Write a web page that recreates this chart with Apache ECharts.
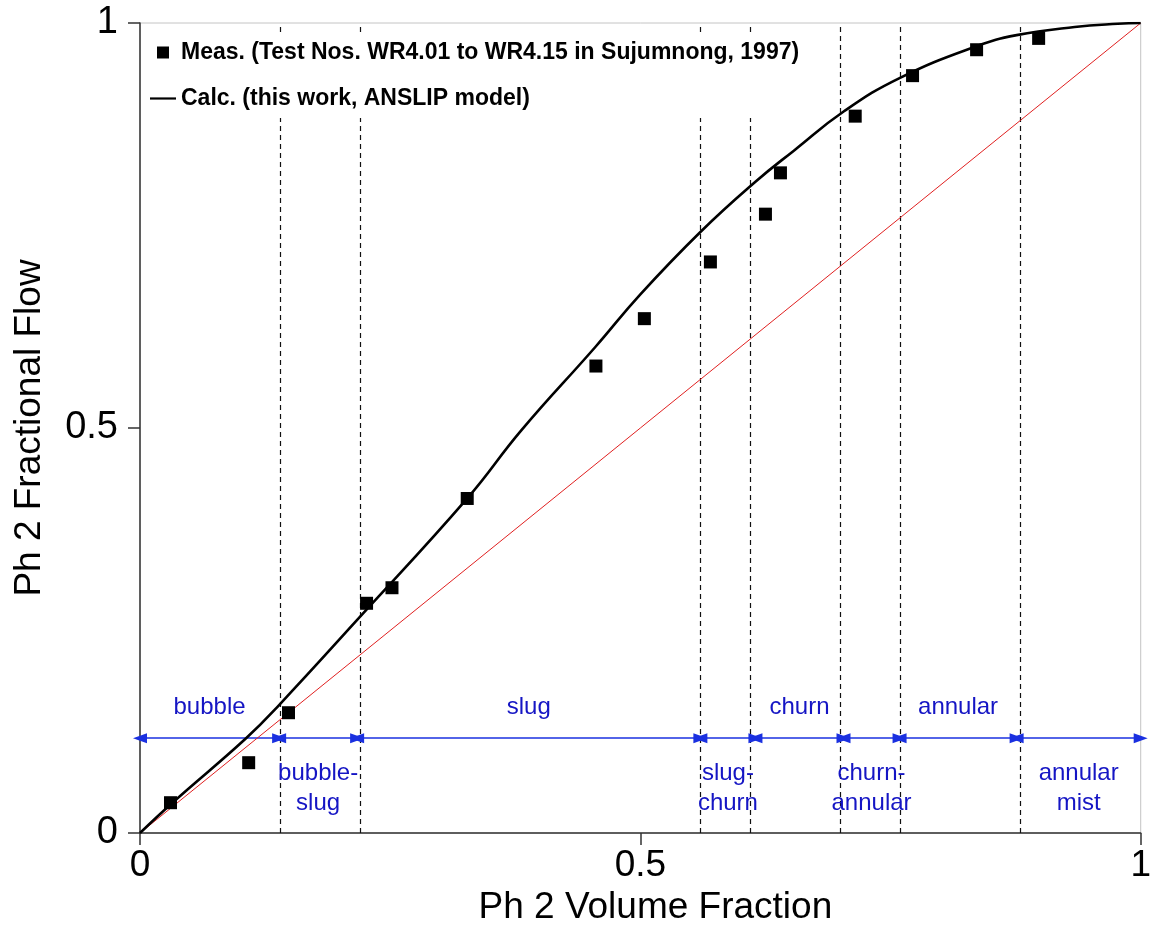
<!DOCTYPE html>
<html>
<head>
<meta charset="utf-8">
<script src="https://cdn.jsdelivr.net/npm/echarts@6/dist/echarts.min.js"></script>
<style>
  html, body { margin: 0; padding: 0; background: #fff; }
  #chart { width: 1154px; height: 947px; }
</style>
</head>
<body>
<div id="chart"></div>
<script>
// ---- data ----
const measName = 'Meas. (Test Nos. WR4.01 to WR4.15 in Sujumnong, 1997)';
const calcName = 'Calc. (this work, ANSLIP model)';
const measX = [0.0305, 0.1086, 0.1484, 0.2264, 0.2518, 0.327, 0.4556, 0.504, 0.570, 0.625, 0.640, 0.7147, 0.772, 0.836, 0.898];
const measY = [0.0374, 0.0868, 0.1485, 0.2836, 0.3028, 0.413, 0.5765, 0.635, 0.705, 0.764, 0.815, 0.885, 0.935, 0.967, 0.981];
const calcX = [0, 0.033, 0.106, 0.139, 0.217, 0.327, 0.381, 0.455, 0.500, 0.560, 0.615, 0.654, 0.7035, 0.759, 0.835, 0.876, 0.934, 0.977, 1];
const calcY = [0, 0.038, 0.117, 0.158, 0.263, 0.413, 0.497, 0.600, 0.665, 0.742, 0.804, 0.843, 0.891, 0.932, 0.971, 0.985, 0.995, 0.999, 1];
const diagX = [0, 1];
const diagY = [0, 1];
const boundaries = [0, 0.139, 0.217, 0.560, 0.615, 0.703, 0.759, 0.876, 1];
const regimes = ['bubble', 'bubble-\nslug', 'slug', 'slug-\nchurn', 'churn', 'churn-\nannular', 'annular', 'annular\nmist'];
const regimeAbove = [true, false, true, false, true, false, true, false];
const arrowLevel = 0.117;
const xTicks = [0, 0.5, 1];

// ---- build ----
const FONT = "'Liberation Sans', Arial, sans-serif";
const BLUE_TXT = '#1515c4';
const BLUE_ARR = '#1a30e0';

const dashed = boundaries.slice(1, -1).map(b => ({ xAxis: b }));

const arrows = regimes.map((name, i) => ([
  {
    coord: [boundaries[i], arrowLevel],
    label: {
      show: true,
      formatter: name,
      position: regimeAbove[i] ? 'insideMiddleTop' : 'insideMiddleBottom',
      distance: regimeAbove[i] ? 16 : 20,
      color: BLUE_TXT,
      fontFamily: FONT,
      fontSize: 24,
      lineHeight: 30,
      align: 'center'
    }
  },
  { coord: [boundaries[i + 1], arrowLevel] }
]));

const chart = echarts.init(document.getElementById('chart'), null, { renderer: 'canvas' });
chart.setOption({
  animation: false,
  backgroundColor: '#fff',
  textStyle: { fontFamily: FONT },
  grid: {
    left: 140, top: 23, width: 1006, height: 810,
    show: true, borderColor: '#c4c4c4', borderWidth: 1, backgroundColor: 'transparent'
  },
  legend: {
    orient: 'vertical',
    left: 145, top: 33,
    z: 10,
    itemGap: 23, itemWidth: 26, itemHeight: 12,
    padding: [8, 10, 8, 5],
    backgroundColor: '#fff',
    textStyle: { fontFamily: FONT, fontSize: 23, fontWeight: 'bold', color: '#000' },
    data: [
      { name: measName, icon: 'path://M0,0h10v10h-10z' },
      { name: calcName, icon: 'path://M0,0h26v2.2h-26z' }
    ]
  },
  xAxis: {
    type: 'value', min: 0, max: 1, interval: 0.5,
    name: 'Ph 2 Volume Fraction', nameLocation: 'middle', nameGap: 38,
    nameTextStyle: { fontFamily: FONT, fontSize: 37, color: '#000', padding: [0, 0, 0, 30] },
    axisLine: { show: true, lineStyle: { color: '#333', width: 1.5 } },
    axisTick: { show: true, inside: false, length: 12, lineStyle: { color: '#333', width: 1.5 } },
    axisLabel: { fontFamily: FONT, fontSize: 37, color: '#000', margin: 14,
      formatter: v => String(xTicks.find(t => Math.abs(t - v) < 1e-9) ?? v) },
    splitLine: { show: false }
  },
  yAxis: {
    type: 'value', min: 0, max: 1, interval: 0.5,
    name: 'Ph 2 Fractional Flow', nameLocation: 'middle', nameGap: 92, nameRotate: 90,
    nameTextStyle: { fontFamily: FONT, fontSize: 37, color: '#000' },
    axisLine: { show: true, lineStyle: { color: '#333', width: 1.5 } },
    axisTick: { show: true, inside: false, length: 12, lineStyle: { color: '#333', width: 1.5 } },
    axisLabel: { fontFamily: FONT, fontSize: 38, color: '#000', margin: 22 },
    splitLine: { show: false }
  },
  series: [
    {
      name: 'diag',
      type: 'line',
      data: diagX.map((x, i) => [x, diagY[i]]),
      symbol: 'none',
      lineStyle: { color: '#e02020', width: 1 },
      z: 2,
      markLine: {
        silent: true,
        animation: false,
        z: 1,
        symbol: ['none', 'none'],
        lineStyle: { color: '#111', type: [5, 4], width: 1.2 },
        label: { show: false },
        data: dashed
      }
    },
    {
      name: 'regimes',
      type: 'line',
      data: [],
      symbol: 'none',
      z: 2,
      markLine: {
        silent: true,
        animation: false,
        z: 2,
        symbol: ['triangle', 'triangle'],
        symbolSize: [10, 14],
        lineStyle: { color: BLUE_ARR, type: 'solid', width: 1.6 },
        itemStyle: { color: BLUE_ARR },
        data: arrows
      }
    },
    {
      name: calcName,
      type: 'line',
      data: calcX.map((x, i) => [x, calcY[i]]),
      symbol: 'none',
      smooth: 0.45,
      lineStyle: { color: '#000', width: 2.6 },
      itemStyle: { color: '#000' },
      z: 3
    },
    {
      name: measName,
      type: 'scatter',
      data: measX.map((x, i) => [x, measY[i]]),
      symbol: 'rect',
      symbolSize: 13,
      itemStyle: { color: '#000', opacity: 1 },
      z: 4
    }
  ]
});
</script>
</body>
</html>
